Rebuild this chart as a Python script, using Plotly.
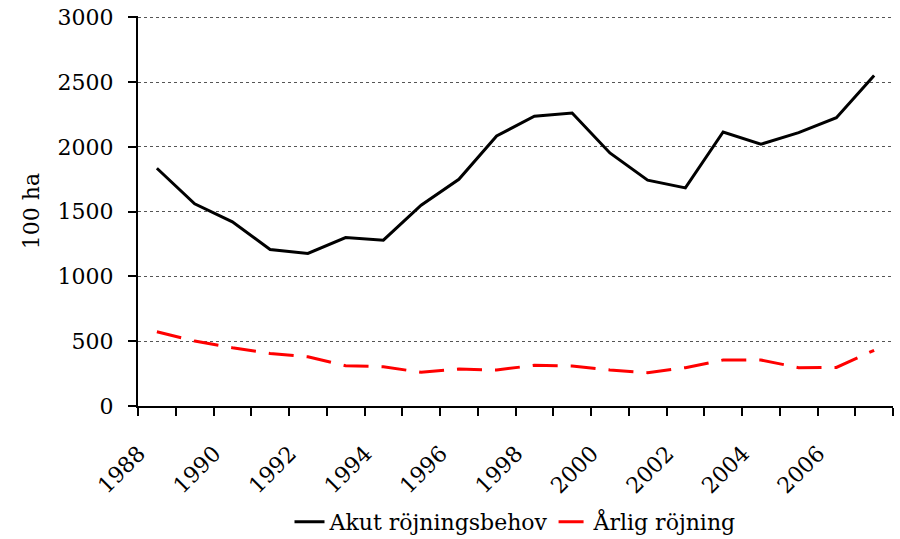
import plotly.graph_objects as go

years = list(range(1988, 2008))
akut = [1835, 1560, 1421, 1208, 1177, 1300, 1280, 1550, 1750, 2084,
        2236, 2261, 1953, 1743, 1683, 2115, 2020, 2110, 2225, 2550]
arlig = [573, 501, 450, 406, 380, 311, 303, 260, 285, 278,
         314, 308, 278, 257, 296, 355, 355, 296, 298, 430]
label_years = [y for y in years if y % 2 == 0]
y_ticks = [0, 500, 1000, 1500, 2000, 2500, 3000]

FONT = "DejaVu Serif"
FS = 22

fig = go.Figure()
fig.add_trace(go.Scatter(x=years, y=akut, mode="lines", name="Akut röjningsbehov",
                         line=dict(color="black", width=3)))
fig.add_trace(go.Scatter(x=years, y=arlig, mode="lines", name="Årlig röjning",
                         line=dict(color="#ff0000", width=3, dash="25px,13px")))

fig.update_layout(
    width=900, height=539,
    margin=dict(l=138, r=7, t=16, b=133, autoexpand=False),
    paper_bgcolor="white", plot_bgcolor="white",
    font=dict(family=FONT, size=FS, color="black"),
    showlegend=True,
    legend=dict(orientation="h", x=0.5, xanchor="center", y=-0.297, yanchor="middle",
                font=dict(family=FONT, size=FS), itemwidth=30, tracegroupgap=0),
)
fig.update_xaxes(
    range=[1987.5, 2007.5], tickmode="array", tickvals=label_years,
    ticktext=[str(y) for y in label_years], tickangle=-45,
    ticks="outside", ticklen=8, tickcolor="rgba(0,0,0,0)",
    ticklabelshift=-18, ticklabelstandoff=16, automargin=False,
    showline=True, linecolor="black", linewidth=2, showgrid=False, zeroline=False,
    minor=dict(tick0=1987.5, dtick=1, ticks="outside", ticklen=8, tickwidth=2,
               tickcolor="black", showgrid=False),
    tickfont=dict(family=FONT, size=FS),
)
fig.update_yaxes(
    range=[0, 3010], tickmode="array", tickvals=y_ticks, automargin=False,
    ticks="outside", ticklen=8, tickwidth=2, tickcolor="black",
    ticklabelstandoff=10, ticklabeloverflow="allow",
    showline=True, linecolor="black", linewidth=2,
    showgrid=True, gridcolor="#555555", gridwidth=1, griddash="3px,3px",
    zeroline=False,
    title=dict(text="100 ha", standoff=12, font=dict(family=FONT, size=FS)),
    tickfont=dict(family=FONT, size=FS),
)
fig.write_html("out.html",
               config={"displayModeBar": False},
               post_script="document.body.style.margin='0';document.body.style.overflow='hidden';")
